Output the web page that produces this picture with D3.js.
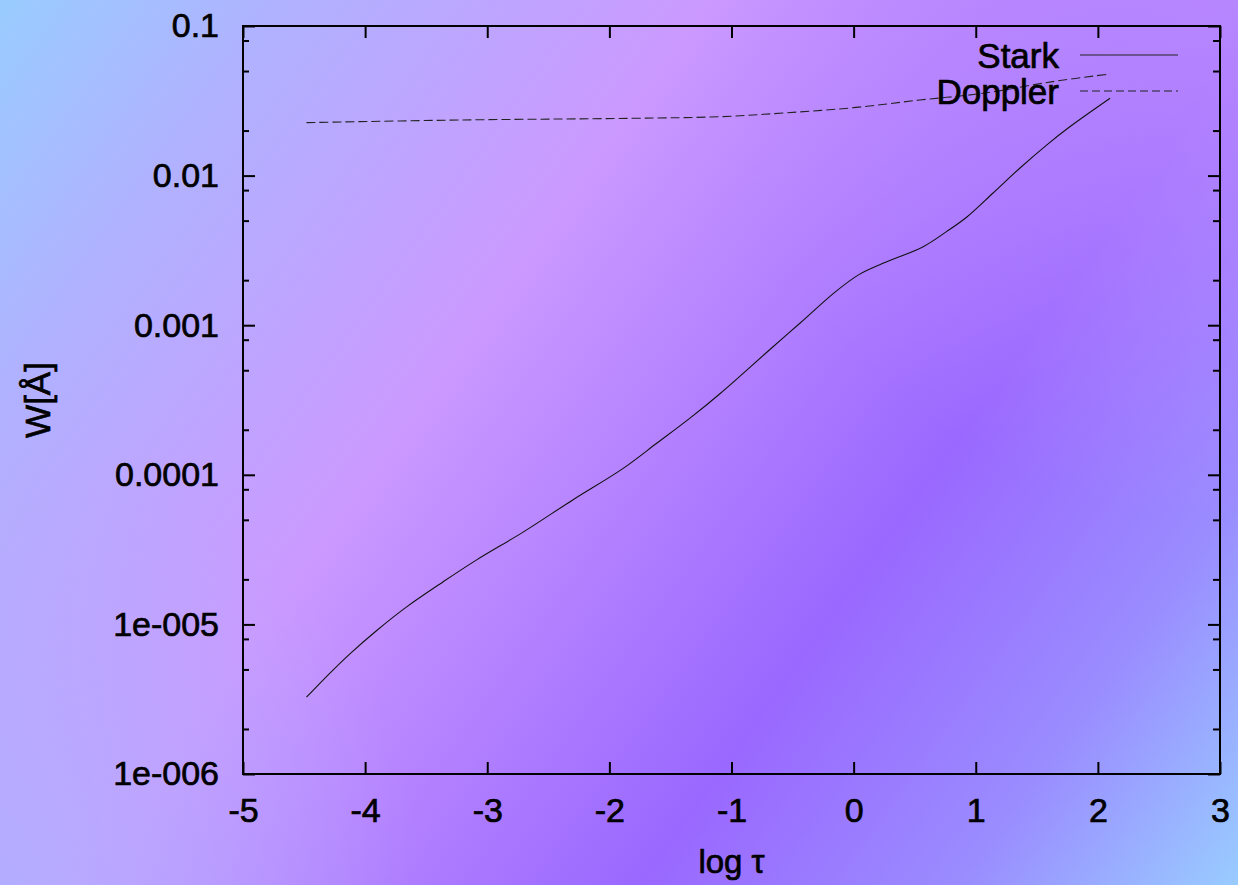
<!DOCTYPE html>
<html>
<head>
<meta charset="utf-8">
<script src="https://cdn.jsdelivr.net/npm/d3@7"></script>
<style>
  html, body { margin: 0; padding: 0; overflow: hidden; }
  svg { display: block; font-family: "Liberation Sans", Arial, sans-serif; }
  .lbl { stroke: #000; stroke-width: 0.7px; }
</style>
</head>
<body>
<svg id="chart" width="1238" height="885"></svg>
<script>
// ---- data ----
const xTicks = [-5, -4, -3, -2, -1, 0, 1, 2, 3];
const xTickLabels = ["-5", "-4", "-3", "-2", "-1", "0", "1", "2", "3"];
const yTicks = [1e-6, 1e-5, 1e-4, 1e-3, 1e-2, 1e-1];
const yTickLabels = ["1e-006", "1e-005", "0.0001", "0.001", "0.01", "0.1"];
const yMinorMultipliers = [2, 5, 8];

const starkLogTau = [-4.48, -4.29, -4.12, -3.90, -3.66, -3.36, -3.09, -2.70, -2.30, -1.89, -1.61, -1.34, -1.09, -0.69, -0.44, -0.15, 0.04, 0.24, 0.57, 0.76, 0.93, 1.14, 1.36, 1.58, 1.77, 2.10];
const starkW = [3.26e-6, 4.71e-6, 6.41e-6, 9.18e-6, 1.31e-5, 1.93e-5, 2.69e-5, 4.17e-5, 6.79e-5, 1.10e-4, 1.63e-4, 2.39e-4, 3.51e-4, 6.83e-4, 1.03e-3, 1.67e-3, 2.17e-3, 2.59e-3, 3.35e-3, 4.22e-3, 5.31e-3, 7.62e-3, 1.12e-2, 1.60e-2, 2.12e-2, 3.29e-2];

const dopplerLogTau = [-4.48, -3.20, -1.83, -1.09, -0.55, 0.00, 0.54, 1.06, 1.63, 2.10];
const dopplerW = [0.0226, 0.02355, 0.02415, 0.02477, 0.0263, 0.02845, 0.0320, 0.0355, 0.0425, 0.0478];

const seriesNames = ["Stark", "Doppler"];
const xTitle = "log τ";
const yTitle = "W[Å]";

// ---- drawing ----
const W = 1238, H = 885;
const svg = d3.select("#chart");
const defs = svg.append("defs");

const lg = defs.append("linearGradient").attr("id", "bg")
  .attr("gradientUnits", "userSpaceOnUse")
  .attr("x1", 0).attr("y1", 0).attr("x2", W).attr("y2", H);
[[0, "#99ccff"], [0.15, "#b0b2ff"], [0.38, "#cb99ff"], [0.68, "#9a68ff"], [0.85, "#9a8cff"], [1, "#99ccff"]]
  .forEach(([o, c]) => lg.append("stop").attr("offset", o).attr("stop-color", c));

const rg1 = defs.append("radialGradient").attr("id", "tr")
  .attr("gradientUnits", "userSpaceOnUse").attr("cx", W).attr("cy", 0).attr("r", 520);
rg1.append("stop").attr("offset", 0).attr("stop-color", "#c090ff").attr("stop-opacity", 0.75);
rg1.append("stop").attr("offset", 1).attr("stop-color", "#c090ff").attr("stop-opacity", 0);

const rg2 = defs.append("radialGradient").attr("id", "bl")
  .attr("gradientUnits", "userSpaceOnUse").attr("cx", 0).attr("cy", H).attr("r", 420);
rg2.append("stop").attr("offset", 0).attr("stop-color", "#b0b0ff").attr("stop-opacity", 0.85);
rg2.append("stop").attr("offset", 1).attr("stop-color", "#b0b0ff").attr("stop-opacity", 0);

svg.append("rect").attr("width", W).attr("height", H).attr("fill", "url(#bg)");
svg.append("rect").attr("width", W).attr("height", H).attr("fill", "url(#tr)");
svg.append("rect").attr("width", W).attr("height", H).attr("fill", "url(#bl)");

const pL = 243, pR = 1220, pT = 26, pB = 774;
const x = d3.scaleLinear().domain([-5, 3]).range([pL, pR]);
const y = d3.scaleLog().domain([1e-6, 0.1]).range([pB, pT]);

const ink = "#000";
const g = svg.append("g");

// minor y ticks
const minor = [];
yTicks.slice(0, -1).forEach(d => yMinorMultipliers.forEach(m => minor.push(d * m)));

const fontSize = 34;
const axL = d3.axisLeft(y).tickValues(yTicks).tickFormat((d, i) => yTickLabels[i]).tickSizeInner(-12).tickSizeOuter(0).tickPadding(24);
const axLm = d3.axisLeft(y).tickValues(minor).tickFormat("").tickSizeInner(-6).tickSizeOuter(0);
const axR = d3.axisRight(y).tickValues(yTicks).tickFormat("").tickSizeInner(-12).tickSizeOuter(0);
const axRm = d3.axisRight(y).tickValues(minor).tickFormat("").tickSizeInner(-7).tickSizeOuter(0);
const axB = d3.axisBottom(x).tickValues(xTicks).tickFormat((d, i) => xTickLabels[i]).tickSizeInner(-12).tickSizeOuter(0);
const axT = d3.axisTop(x).tickValues(xTicks).tickFormat("").tickSizeInner(-12).tickSizeOuter(0);

function style(sel) {
  sel.select(".domain").remove();
  sel.selectAll("line").attr("stroke", ink).attr("stroke-width", 2);
  sel.selectAll("text").attr("fill", ink).attr("class", "lbl")
    .style("font-size", fontSize + "px").style("font-family", "'Liberation Sans', Arial, sans-serif");
}
g.append("g").attr("transform", `translate(${pL},0)`).call(axL).call(style);
g.append("g").attr("transform", `translate(${pL},0)`).call(axLm).call(style);
g.append("g").attr("transform", `translate(${pR},0)`).call(axR).call(style);
g.append("g").attr("transform", `translate(${pR},0)`).call(axRm).call(style);
const gb = g.append("g").attr("transform", `translate(0,${pB})`).call(axB).call(style);
g.append("g").attr("transform", `translate(0,${pT})`).call(axT).call(style);

gb.selectAll("text").attr("dy", "0.71em").attr("y", 24);

// frame
g.append("rect").attr("x", pL).attr("y", pT).attr("width", pR - pL).attr("height", pB - pT)
  .attr("fill", "none").attr("stroke", ink).attr("stroke-width", 2);

// series
const line = d3.line().x(d => x(d[0])).y(d => y(d[1])).curve(d3.curveCatmullRom.alpha(0.5));
const stark = starkLogTau.map((t, i) => [t, starkW[i]]);
const doppler = dopplerLogTau.map((t, i) => [t, dopplerW[i]]);

g.append("path").datum(stark).attr("d", line).attr("fill", "none").attr("stroke", "#111").attr("stroke-width", 1.1);
g.append("path").datum(doppler).attr("d", line).attr("fill", "none").attr("stroke", "#222").attr("stroke-width", 1.1).attr("stroke-dasharray", "9,4");

// legend
const legendRows = [{ name: seriesNames[0], dash: null }, { name: seriesNames[1], dash: "8,4" }];
const lgG = g.append("g");
legendRows.forEach((r, i) => {
  const cy = 55 + i * 36;
  lgG.append("text").attr("x", 1059).attr("y", cy).attr("dy", "0.36em").attr("text-anchor", "end")
    .attr("fill", ink).attr("class", "lbl").style("font-size", "35px").text(r.name);
  const l = lgG.append("line").attr("x1", 1080).attr("x2", 1178).attr("y1", cy).attr("y2", cy)
    .attr("stroke", "#222").attr("stroke-width", 1.1);
  if (r.dash) l.attr("stroke-dasharray", r.dash);
});

// axis titles
svg.append("text").attr("x", (pL + pR) / 2).attr("y", 873).attr("text-anchor", "middle")
  .attr("fill", ink).attr("class", "lbl").style("font-size", "33px").text(xTitle);
svg.append("text").attr("transform", `translate(50,${(pT + pB) / 2}) rotate(-90)`).attr("text-anchor", "middle")
  .attr("fill", ink).attr("class", "lbl").style("font-size", "35px").text(yTitle);
</script>
</body>
</html>
